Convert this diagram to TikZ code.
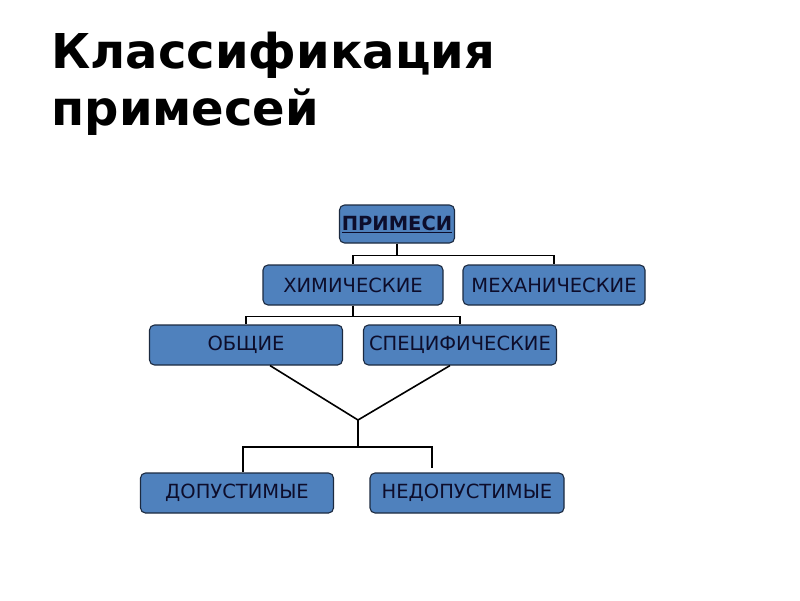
\documentclass[tikz,border=0pt]{standalone}
\usepackage{fontspec}
\setmainfont{DejaVu Sans}
\usetikzlibrary{calc,positioning}
\definecolor{boxblue}{HTML}{4F81BD}
\definecolor{boxline}{HTML}{1C2A40}
\definecolor{boxtext}{HTML}{0D0D2B}
\tikzset{
      kind/.style = {draw=boxline, fill=boxblue, line width=1.1pt, rounded corners=5pt,
                     text=boxtext, font=\fontsize{19.5}{22}\selectfont,
                     minimum height=40pt, inner sep=0pt},
      link/.style = {black, line width=1.6pt},
    }

\begin{document}
\begin{tikzpicture}[x=1pt,y=-1pt]
        \useasboundingbox (0,0) rectangle (800,600);
        \node [anchor=base west, font=\fontsize{48}{57}\selectfont\bfseries, align=left] (title) at (48,125)
              {Классификация\\примесей};
        \node [kind, minimum width=115pt, minimum height=38pt, font=\fontsize{19.5}{22}\selectfont\bfseries] (prim) at (397,224) {\underline{ПРИМЕСИ}};
        \node [kind, minimum width=180pt] (chem)  at (353,285) {ХИМИЧЕСКИЕ};
        \node [kind, minimum width=182pt] (mech)  at (554,285) {МЕХАНИЧЕСКИЕ};
        \node [kind, minimum width=193pt] (gen)   at (246,345) {ОБЩИЕ};
        \node [kind, minimum width=193pt] (spec)  at (460,345) {СПЕЦИФИЧЕСКИЕ};
        \node [kind, minimum width=193pt] (ok)    at (237,493) {ДОПУСТИМЫЕ};
        \node [kind, minimum width=194pt] (notok) at (467,493) {НЕДОПУСТИМЫЕ};
        % tree lines
        \draw [link] (prim.south) -- ++(0,12) -| (chem.north);
        \draw [link] (prim.south) -- ++(0,12) -| (mech.north);
        \draw [link] (chem.south) -- ++(0,11) -| (gen.north);
        \draw [link] (chem.south) -- ++(0,11) -| (spec.north);
        \coordinate (meet) at (358,420);
        \draw [link] ($(gen.south)+(24,0)$) -- (meet);
        \draw [link] ($(spec.south)+(-10,0)$) -- (meet);
        \draw [link] (meet) -- ++(0,27) coordinate (fork);
        \draw [link] (fork) -| ($(ok.north)+(6,0)$);
        \draw [link] (fork) -| ($(notok.north)+(-35,-4)$);
    \end{tikzpicture}
\end{document}
